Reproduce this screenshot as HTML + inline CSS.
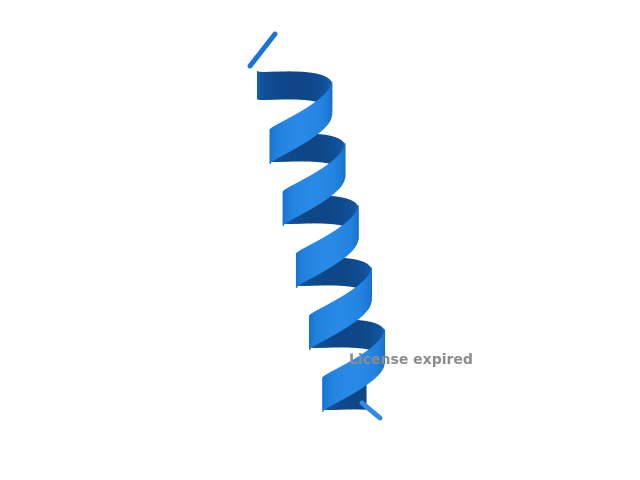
<!DOCTYPE html>
<html><head><meta charset="utf-8"><style>
html,body{margin:0;padding:0;background:#fff;width:640px;height:480px;overflow:hidden}
</style></head><body>
<svg id="s" width="640" height="480" viewBox="0 0 640 480">
<line x1="250" y1="66" x2="275" y2="34" stroke="#1a74d6" stroke-width="5" stroke-linecap="round"/>
<g id="h"></g>
<line x1="362" y1="403" x2="380" y2="418" stroke="#2f8be6" stroke-width="5" stroke-linecap="round"/>
<text x="349" y="364" font-family="DejaVu Sans, sans-serif" font-weight="bold" font-size="14" fill="#8c8c8c">License expired</text>
</svg>
<script>
const g=document.getElementById('h');
const segs=[];
const t0=Math.PI, t1=11.55*Math.PI, N=800;
let prev=null;
for(let i=0;i<=N;i++){
 const th=t0+(t1-t0)*i/N;
 const turn=(th-Math.PI)/(2*Math.PI);
 const cx=291+13.2*turn;
 const x=cx+34*Math.cos(th);
 const z=Math.sin(th);
 const y=76+62*turn-9*Math.cos(th)+6*z;
 const p={x,y,z};
 if(prev) segs.push([prev,p]);
 prev=p;
}
segs.sort((a,b)=>(a[0].z+a[1].z)-(b[0].z+b[1].z));
for(const [a,b] of segs){
 const z=(a.z+b.z)/2;
 const w=z>0?17:14;
 const dx=(b.x-a.x)>=0?0.6:-0.6;
 const l=document.createElementNS('http://www.w3.org/2000/svg','polygon');
 
 
 l.setAttribute('points',`${a.x},${a.y-w} ${b.x+dx},${b.y-w} ${b.x+dx},${b.y+w} ${a.x},${a.y+w}`);
 let col;
 if(z>0){const k=z;col=`rgb(${Math.round(18+22*k)},${Math.round(108+30*k)},${Math.round(200+30*k)})`;}
 else {const k=-z;col=`rgb(${Math.round(22-8*k)},${Math.round(95-25*k)},${Math.round(180-45*k)})`;}
 l.setAttribute('fill',col);
 g.appendChild(l);
}
</script>
</body></html>
